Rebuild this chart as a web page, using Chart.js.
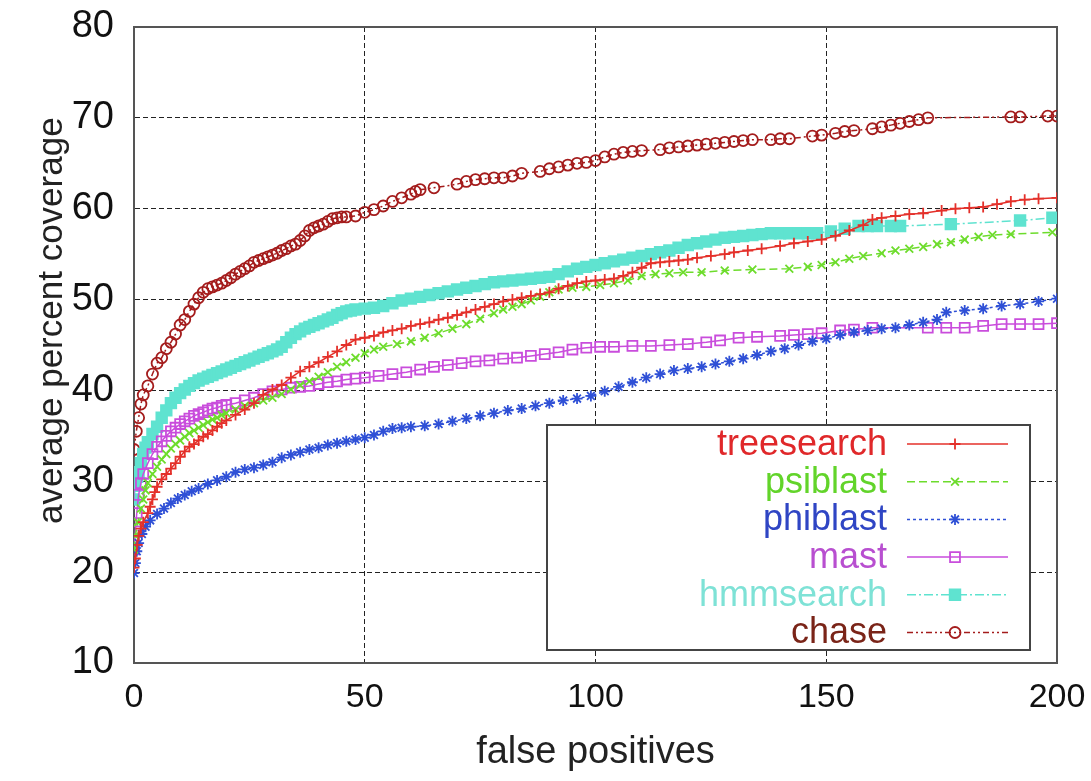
<!DOCTYPE html>
<html><head><meta charset="utf-8">
<script src="https://cdn.jsdelivr.net/npm/chart.js@4.4.0/dist/chart.umd.min.js"></script>
<style>html,body{margin:0;padding:0;background:#fff}#wrap{width:1091px;height:781px;position:relative}</style>
</head><body><div id="wrap"><canvas id="c" width="1091" height="781"></canvas></div>
<script>
const seriesNames = ['treesearch','psiblast','phiblast','mast','hmmsearch','chase'];
const xTickValues = [0,50,100,150,200];
const yTickValues = [10,20,30,40,50,60,70,80];
const xAxisTitle = 'false positives';
const yAxisTitle = 'average percent coverage';

const treesearch = [[0,20.5],[0.3,21.5],[0.7,23],[1,24],[1.5,24.8],[2,25.5],[3,26.5],[3.5,27.2],[4,28],[4.5,28.8],[5,29.4],[6,30.2],[7,30.8],[8,31.4],[9,32],[10,32.7],[11,33.3],[12,33.8],[13,34.1],[14,34.5],[15,34.9],[16,35.2],[17,35.6],[18,36],[19,36.4],[20,36.7],[22,37.3],[24,37.9],[26,38.6],[28,39.5],[30,40.1],[32,40.6],[34,41.4],[36,42.1],[38,42.6],[40,43.1],[42,43.7],[44,44.3],[46,45.0],[48,45.6],[50,45.8],[52,46.0],[54,46.4],[56,46.6],[58,46.8],[60,47.1],[62,47.3],[64,47.5],[66,47.8],[68,48.0],[70,48.3],[72,48.6],[74,48.9],[76,49.2],[78,49.5],[80,49.8],[82,50.0],[84,50.2],[86,50.4],[88,50.6],[90,50.8],[92,51.2],[94,51.5],[96,51.8],[98,52.0],[100,52.1],[102,52.2],[104,52.3],[106,52.6],[108,53.0],[110,53.5],[112,54.0],[114,54.1],[116,54.2],[118,54.3],[120,54.4],[122,54.6],[125,54.8],[128,55.0],[130,55.2],[133,55.4],[136,55.6],[140,55.9],[143,56.2],[146,56.4],[149,56.6],[152,57.0],[155,57.6],[158,58.2],[160,58.8],[162,59.0],[165,59.2],[168,59.4],[171,59.5],[175,59.8],[178,60.0],[181,60.1],[184,60.2],[187,60.5],[190,60.8],[193,61.0],[196,61.1],[200,61.2]];

const psiblast = [[0,22.5],[0.3,24],[0.8,25.5],[1.5,27],[2,28],[2.5,29],[3,29.8],[4,30.8],[5,31.6],[6,32.4],[7,33],[8,33.6],[9,34.1],[10,34.5],[11,34.9],[12,35.3],[13,35.6],[14,35.9],[15,36.2],[16,36.5],[17,36.8],[18,37.0],[19,37.3],[20,37.5],[22,37.9],[24,38.3],[26,38.6],[28,38.9],[30,39.2],[32,39.6],[34,40.1],[36,40.6],[38,41.0],[40,41.5],[42,42.0],[44,42.6],[46,43.1],[48,43.6],[50,44.1],[52,44.5],[54,44.8],[57,45.1],[60,45.4],[63,45.8],[66,46.3],[69,46.8],[72,47.3],[75,47.9],[78,48.5],[80,48.9],[82,49.2],[84,49.5],[86,49.9],[88,50.3],[90,50.8],[92,51.1],[95,51.3],[98,51.4],[101,51.6],[104,51.8],[107,52.1],[110,52.6],[113,52.8],[116,52.9],[119,53.0],[123,53.0],[128,53.2],[134,53.3],[142,53.4],[146,53.6],[149,53.8],[152,54.1],[155,54.5],[158,54.8],[162,55.1],[165,55.4],[168,55.6],[171,55.8],[174,56.1],[177,56.3],[180,56.6],[183,56.9],[186,57.1],[190,57.2],[199,57.4]];

const phiblast = [[0,19.9],[0.3,21],[0.6,22.3],[1,23.2],[1.7,24.2],[2.5,25],[3.5,25.7],[5,26.4],[6.5,27],[8,27.6],[9.5,28.1],[11,28.5],[12.5,28.9],[14,29.2],[16,29.7],[18,30.1],[20,30.5],[22,31.0],[24,31.3],[26,31.5],[28,31.8],[30,32.1],[32,32.6],[34,32.9],[36,33.2],[38,33.5],[40,33.7],[42,34.0],[44,34.2],[46,34.4],[48,34.6],[50,34.8],[52,35.1],[54,35.5],[56,35.8],[58,35.9],[60,36.0],[63,36.1],[66,36.3],[69,36.6],[72,36.9],[75,37.2],[78,37.5],[81,37.8],[84,38.0],[87,38.3],[90,38.6],[93,38.9],[96,39.1],[99,39.4],[102,39.9],[105,40.4],[108,40.9],[111,41.4],[114,41.8],[117,42.2],[120,42.4],[123,42.6],[126,42.9],[129,43.2],[132,43.5],[135,43.9],[138,44.3],[141,44.6],[144,45.0],[147,45.4],[150,45.7],[153,46.1],[156,46.4],[159,46.6],[162,46.8],[165,46.9],[168,47.2],[171,47.5],[174,47.8],[176,48.6],[180,48.8],[184,49.0],[188,49.3],[192,49.5],[196,49.8],[200,50.1]];

const mast = [[0,22.5],[0.3,24.5],[0.6,26.5],[1,28.5],[1.5,29.8],[2,30.8],[3,32],[4,33],[5,33.8],[6,34.4],[7,35],[8,35.5],[9,35.9],[10,36.3],[11,36.6],[12,36.9],[13,37.2],[14,37.4],[15,37.6],[16,37.8],[17,38],[18,38.1],[19,38.3],[20,38.4],[22,38.6],[24,38.9],[26,39.2],[28,39.6],[30,39.9],[32,40.1],[34,40.3],[36,40.4],[38,40.5],[40,40.7],[42,40.9],[44,41.0],[46,41.2],[48,41.3],[50,41.4],[53,41.6],[56,41.8],[59,42.0],[62,42.3],[65,42.6],[68,42.8],[71,43.0],[74,43.2],[77,43.3],[80,43.5],[83,43.6],[86,43.8],[89,44.0],[92,44.2],[95,44.5],[98,44.7],[101,44.8],[104,44.8],[108,44.9],[112,44.9],[116,45.0],[120,45.1],[124,45.3],[127,45.5],[131,45.8],[135,45.9],[140,46.0],[143,46.1],[146,46.2],[149,46.3],[153,46.6],[156,46.7],[160,46.9],[172,46.9],[176,46.9],[180,46.9],[184,47.1],[188,47.3],[192,47.3],[196,47.3],[200,47.4]];

const hmmsearch = [[0,28],[0.3,29.5],[0.7,30.5],[1,31],[1.5,32],[2,33],[2.5,33.7],[3,34.3],[4,35.2],[5,36],[6,37],[7,37.8],[8,38.6],[9,39.2],[10,39.7],[11,40.1],[12,40.5],[13,40.8],[14,41.1],[15,41.3],[16,41.5],[17,41.7],[18,41.9],[19,42.1],[20,42.3],[21,42.5],[22,42.7],[23,42.9],[24,43.1],[25,43.3],[26,43.5],[27,43.7],[28,43.9],[29,44.1],[30,44.3],[31,44.5],[32,44.8],[33,45.3],[34,45.8],[35,46.2],[36,46.5],[37,46.8],[38,47.0],[39,47.2],[40,47.4],[41,47.6],[42,47.8],[43,48.0],[44,48.3],[45,48.5],[46,48.7],[47,48.8],[48,48.9],[50,49.0],[52,49.1],[54,49.3],[56,49.6],[58,49.9],[60,50.1],[62,50.3],[64,50.5],[66,50.7],[68,50.9],[70,51.1],[72,51.3],[74,51.5],[76,51.7],[78,51.9],[80,52.0],[82,52.1],[84,52.2],[86,52.3],[88,52.4],[90,52.5],[92,52.8],[94,53.1],[96,53.4],[98,53.6],[100,53.8],[102,54.0],[104,54.2],[106,54.4],[108,54.6],[110,54.8],[112,55.0],[114,55.2],[116,55.4],[118,55.7],[120,56.0],[122,56.2],[124,56.4],[126,56.6],[128,56.8],[130,56.9],[132,57.0],[134,57.1],[136,57.2],[138,57.3],[140,57.3],[142,57.3],[144,57.3],[146,57.3],[148,57.3],[151,57.5],[154,57.8],[157,58.1],[159,58.1],[161,58.1],[164,58.1],[166,58.1],[177,58.3],[192,58.7],[199,59.0]];

const chase = [[0,33.5],[0.5,35.5],[1,37],[1.5,38.5],[2,39.5],[3,40.5],[4,41.8],[5,43],[6,43.6],[7,44.6],[8,45.3],[9,46.2],[10,47.2],[11,47.8],[12,48.7],[13,49.5],[14,50.2],[15,50.8],[16,51.2],[17,51.4],[18,51.6],[19,51.8],[20,52.1],[21,52.4],[22,52.8],[23,53.1],[24,53.4],[25,53.7],[26,54.1],[27,54.3],[28,54.5],[29,54.7],[30,54.9],[31,55.1],[32,55.4],[33,55.6],[34,55.9],[35,56.1],[36,56.5],[37,57.0],[38,57.6],[39,57.9],[40,58.1],[41,58.3],[42,58.6],[43,58.9],[44,59.0],[45,59.1],[46,59.1],[48,59.2],[50,59.6],[52,59.9],[54,60.3],[56,60.8],[58,61.2],[60,61.6],[61,61.9],[62,62.1],[65,62.3],[70,62.7],[72,63.0],[74,63.2],[76,63.3],[78,63.4],[80,63.4],[82,63.6],[84,63.9],[88,64.1],[90,64.4],[92,64.6],[94,64.8],[96,65.0],[98,65.1],[100,65.3],[102,65.7],[104,66.0],[106,66.2],[108,66.3],[110,66.4],[114,66.5],[116,66.7],[118,66.8],[120,66.9],[122,67.0],[124,67.1],[126,67.2],[128,67.3],[130,67.4],[132,67.5],[134,67.6],[138,67.6],[140,67.7],[142,67.7],[147,68.0],[149,68.1],[152,68.3],[154,68.5],[156,68.6],[160,68.8],[162,69.0],[164,69.2],[166,69.4],[168,69.6],[170,69.8],[172,70.0],[190,70.1],[192,70.1],[198,70.2],[200,70.2]];

const seriesData = [treesearch, psiblast, phiblast, mast, hmmsearch, chase];
const lineColors = ['#e4302a','#6ddc2c','#2f50d6','#c94ddc','#5fe3d0','#a41c1c'];
const legendTextColors = ['#e0282a','#62d42a','#2f45c4','#b84fd0','#7ee2d6','#7a2418'];
const dashes = [[], [8,4], [3,3], [], [9,3,2,3], [6,3,2,3,2,3]];
const pointStyles = ['cross','crossRot','star','rect','rect','circle'];
const pointRadii = [5.5,5.5,5.5,7,7.5,5.5];
const pointFills = ['#e4302a','#6ddc2c','#2f50d6','rgba(0,0,0,0)','#5fe3d0','rgba(0,0,0,0)'];

const FONT = "'Liberation Sans', Arial, sans-serif";
Chart.defaults.font.family = FONT;
Chart.defaults.color = '#111';

const datasets = seriesNames.map((name, i) => ({
  label: name,
  data: seriesData[i].map(p => ({x: p[0], y: p[1]})),
  borderColor: lineColors[i],
  borderWidth: 1.5,
  borderDash: dashes[i],
  pointStyle: pointStyles[i],
  pointRadius: pointRadii[i],
  pointBorderWidth: 1.8,
  pointBorderColor: lineColors[i],
  pointBackgroundColor: pointFills[i],
  fill: false,
  tension: 0
}));

function drawMarker(ctx, style, r, x, y) {
  if (Chart.helpers && Chart.helpers.drawPoint) {
    Chart.helpers.drawPoint(ctx, {pointStyle: style, radius: r, borderWidth: ctx.lineWidth, rotation: 0}, x, y);
  }
}

function zeroPad(s) { s.paddingTop = 0; s.paddingBottom = 0; s.paddingLeft = 0; s.paddingRight = 0; }

const legendPlugin = {
  id: 'boxLegend',
  afterDatasetsDraw(chart) {
    const {ctx, chartArea: a} = chart;
    const w = 483, h = 225;
    const right = a.right - 27, bottom = a.bottom - 13;
    const left = right - w, top = bottom - h;
    ctx.save();
    ctx.fillStyle = '#fff';
    ctx.fillRect(left, top, w, h);
    ctx.strokeStyle = '#444';
    ctx.lineWidth = 2;
    ctx.strokeRect(left, top, w, h);
    ctx.font = '36px ' + FONT;
    ctx.textAlign = 'right';
    ctx.textBaseline = 'middle';
    chart.data.datasets.forEach((ds, i) => {
      const y = top + 19 + i * 37.7;
      ctx.fillStyle = legendTextColors[i];
      ctx.fillText(ds.label, left + 340, y + 1);
      ctx.strokeStyle = ds.borderColor;
      ctx.lineWidth = ds.borderWidth;
      ctx.setLineDash(ds.borderDash || []);
      ctx.beginPath();
      ctx.moveTo(left + 360, y);
      ctx.lineTo(left + 461, y);
      ctx.stroke();
      ctx.setLineDash([]);
      ctx.fillStyle = ds.pointBackgroundColor;
      ctx.strokeStyle = ds.pointBorderColor;
      ctx.lineWidth = ds.pointBorderWidth;
      drawMarker(ctx, ds.pointStyle, ds.pointRadius, left + 408, y);
    });
    ctx.restore();
  }
};

new Chart(document.getElementById('c'), {
  type: 'line',
  data: { datasets },
  plugins: [legendPlugin],
  options: {
    responsive: false,
    animation: false,
    events: [],
    devicePixelRatio: 1,
    layout: { padding: { left: 0, right: 34, top: 27, bottom: 6 } },
    plugins: { legend: { display: false }, tooltip: { enabled: false } },
    scales: {
      x: {
        type: 'linear', position: 'bottom',
        min: xTickValues[0], max: xTickValues[xTickValues.length - 1],
        afterBuildTicks: s => { s.ticks = xTickValues.map(v => ({value: v})); },
        ticks: { font: { size: 34 }, color: '#111', padding: 14, maxRotation: 0 },
        grid: { color: '#222', lineWidth: 1, drawTicks: false },
        border: { display: true, color: '#555', width: 2, dash: [5, 3] },
        title: { display: true, text: xAxisTitle, font: { size: 38 }, color: '#222', padding: { top: 0, bottom: 0 } },
        afterFit: s => { s.height = 112; zeroPad(s); }
      },
      y: {
        type: 'linear', position: 'left',
        min: yTickValues[0], max: yTickValues[yTickValues.length - 1],
        afterBuildTicks: s => { s.ticks = yTickValues.map(v => ({value: v})); },
        ticks: { font: { size: 38 }, color: '#111', padding: 20 },
        grid: { color: '#222', lineWidth: 1, drawTicks: false },
        border: { display: true, color: '#555', width: 2, dash: [5, 3] },
        title: { display: true, text: '\u00a0\u00a0\u00a0\u00a0\u00a0' + yAxisTitle, font: { size: 35 }, color: '#222', padding: { top: 31, bottom: 0 } },
        afterFit: s => { s.width = 134; zeroPad(s); }
      },
      xTop: {
        type: 'linear', position: 'top', min: 0, max: 1,
        ticks: { display: false }, grid: { display: false, drawTicks: false },
        border: { display: true, color: '#555', width: 2 },
        afterFit: s => { s.height = 0; zeroPad(s); }
      },
      yRight: {
        type: 'linear', position: 'right', min: 0, max: 1,
        ticks: { display: false }, grid: { display: false, drawTicks: false },
        border: { display: true, color: '#555', width: 2 },
        afterFit: s => { s.width = 0; zeroPad(s); }
      }
    }
  }
});
</script>
</body></html>
